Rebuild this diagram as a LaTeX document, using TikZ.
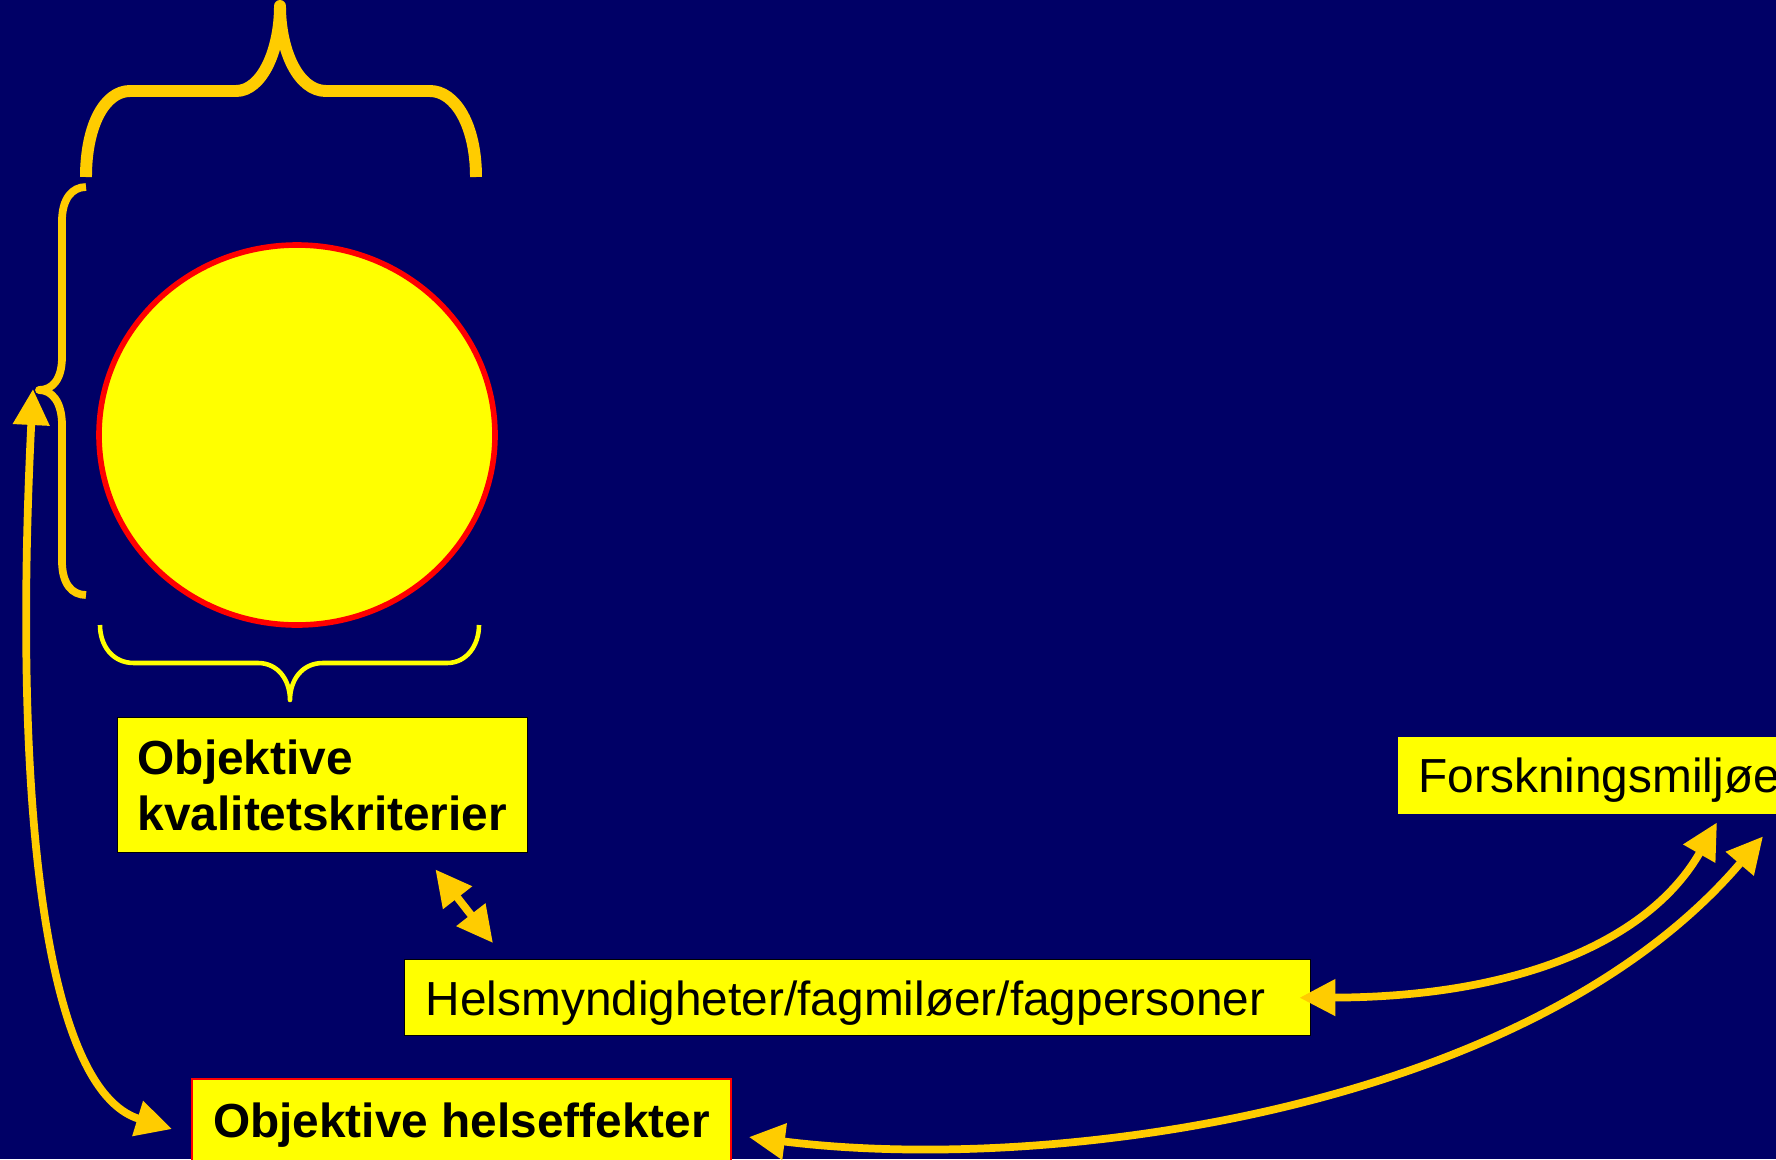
\documentclass[tikz,border=0pt]{standalone}
\usepackage{fontspec}
\setmainfont{Liberation Sans}
\usetikzlibrary{arrows.meta,shapes.geometric}
\definecolor{navy}{HTML}{000066}
\definecolor{gold}{HTML}{FFCC00}
\definecolor{lemon}{HTML}{FFFF00}
\tikzset{
  box/.style={fill=lemon, anchor=north west, inner ysep=0pt, align=left,
    font=\fontsize{13.6}{15.93}\selectfont},
  oneline/.style={text height=4.3mm, text depth=0.8mm},
  arr/.style={gold, line width=2.2pt,
    {Triangle[length=3.6mm,width=3.5mm]}-{Triangle[length=3.6mm,width=3.5mm]}},
}
\begin{document}
\begin{tikzpicture}[x=0.1mm, y=-0.1mm]
      \useasboundingbox (0,0) rectangle (1776,1159);
      \fill[navy] (0,0) rectangle (1776,1159);
      \coordinate (cusp) at (39,390);
      \draw
        (297,435) node[ellipse, draw=red, fill=lemon, line width=1.6pt, inner sep=0pt,
          minimum width=39.6mm, minimum height=38mm] (sun){}
        (117,717) node[box, draw=black, line width=0.4pt, inner xsep=2mm, text width=37mm,
          minimum height=13.5mm] (kval){\bfseries Objektive\\\bfseries kvalitetskriterier}
        (404,959) node[box, oneline, draw=black, line width=0.4pt, inner xsep=2.1mm, text width=86.4mm,
          minimum height=7.6mm] (helsmynd){Helsmyndigheter/fagmiløer/fagpersoner}
        (191,1078) node[box, oneline, draw=red, line width=0.6pt, inner xsep=2.1mm,
          minimum height=8.2mm] (helse){\bfseries Objektive helseffekter}
        (1397,736) node[box, oneline, inner xsep=2.1mm, text width=36mm,
          minimum height=7.7mm] (forsk){Forskningsmiljøer};
      % braces
      \draw[gold, line width=3.4pt, line join=round]
        (86,177) .. controls (86,125) and (105,91) .. (130,91) -- (236,91)
        .. controls (262,91) and (280,50) .. (280,6)
        .. controls (280,50) and (298,91) .. (326,91) -- (430,91)
        .. controls (455,91) and (476,125) .. (476,177);
      \draw[gold, line width=2.2pt, line join=round]
        (86,187) .. controls (72,187) and (62,199) .. (62,221) -- (62,357)
        .. controls (62,380) and (52,390) .. (cusp)
        .. controls (52,390) and (62,402) .. (62,425) -- (62,561)
        .. controls (62,584) and (72,595) .. (86,595);
      \draw[lemon, line width=1.3pt, line join=round]
        (100,625) .. controls (100,645) and (112,663) .. (134,663) -- (258,663)
        .. controls (278,663) and (290,680) .. (290,700)
        .. controls (290,680) and (302,663) .. (323,663) -- (447,663)
        .. controls (467,663) and (479,645) .. (479,625);
      \begin{scope}[arr]
        \draw ([shift={(-6,-1)}]cusp) .. controls (13,790) and (42,1089) .. ([shift={(-19,9)}]helse.west);
        \draw ([shift={(-93,16)}]kval.south east) -- ([shift={(89,-16)}]helsmynd.north west);
        \draw ([shift={(-12,0)}]helsmynd.east) .. controls (1520,997) and (1650,940) .. ([shift={(320,8)}]forsk.south west);
        \draw ([shift={(17,17)}]helse.east) .. controls (1050,1175) and (1530,1110) .. ([shift={(366,22)}]forsk.south west);
      \end{scope}
    \end{tikzpicture}
\end{document}
